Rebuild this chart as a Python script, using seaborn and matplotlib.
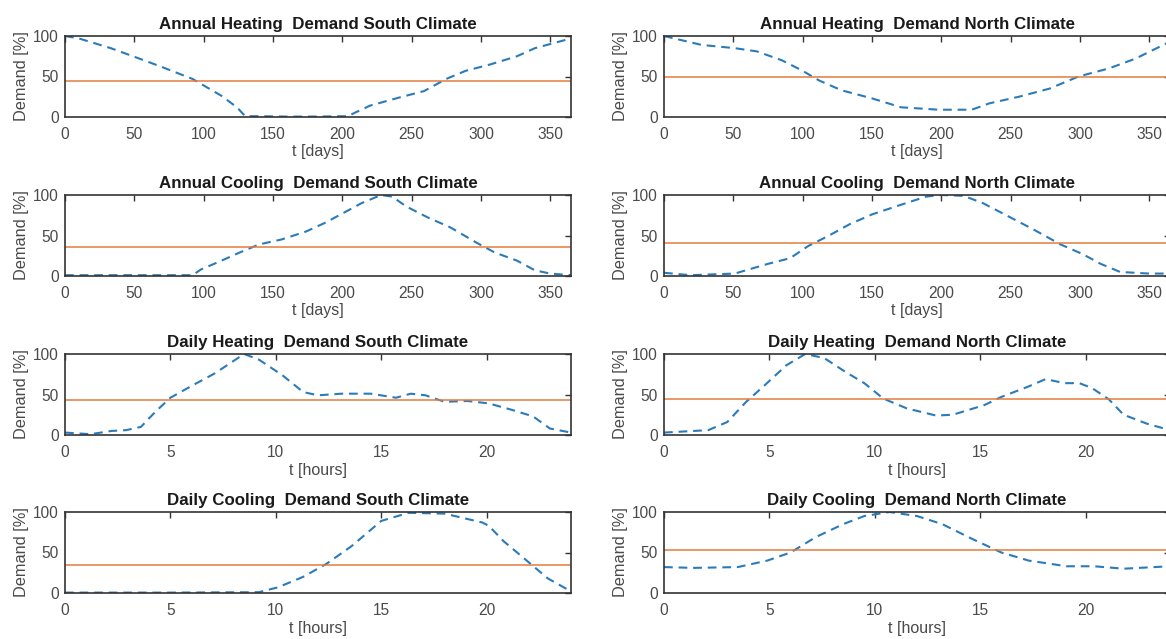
import numpy as np
import pandas as pd
import matplotlib
matplotlib.use("Agg")
import matplotlib.pyplot as plt
import seaborn as sns

# ---------------- data ----------------
ahs_t = [0, 10, 33, 49, 68, 92, 113, 124, 130, 140, 160, 180, 204, 210, 220, 241, 259, 275, 289, 307, 326, 339, 352, 365]
ahs_v = [100, 97, 85, 75, 63, 47, 26, 12, 1, 1, 0.5, 0.5, 1, 6, 14, 24, 32, 47, 57, 65, 75, 85, 91, 97]

ahn_t = [0, 27, 51, 67, 85, 99, 112, 128, 150, 171, 198, 222, 235, 256, 278, 299, 321, 340, 365]
ahn_v = [100, 89, 85, 81, 70, 58, 45, 33, 23, 12, 9, 9, 17, 25, 35, 50, 60, 72, 93]

acs_t = [0, 40, 87, 92, 98, 113, 126, 140, 156, 174, 188, 201, 214, 228, 236, 246, 262, 278, 297, 310, 326, 339, 350, 365]
acs_v = [1, 1, 1, 1, 8, 19, 29, 39, 45, 55, 66, 78, 90, 100, 98, 86, 72, 60, 41, 29, 19, 7, 3, 1]

acn_t = [0, 19, 51, 59, 75, 91, 104, 118, 134, 150, 171, 189, 200, 216, 230, 248, 267, 286, 302, 315, 329, 350, 365]
acn_v = [4, 1, 3, 7, 15, 22, 37, 49, 64, 76, 88, 98, 100, 99, 90, 74, 57, 39, 27, 15, 5, 3, 3]

dhs_t = [0, 1.2, 2.2, 2.9, 3.6, 4.3, 5.0, 6.1, 7.1, 8.2, 8.5, 9.2, 10.3, 11.3, 12.0, 13.1, 14.5, 15.7, 16.4, 17.1, 18.0, 19.1, 20.1, 21.2, 22.2, 23.0, 24.0]
dhs_v = [3, 1, 5, 6, 10, 29, 46, 62, 76, 95, 100, 93, 74, 53, 49, 51, 51, 46, 51, 49, 41, 42, 39, 31, 23, 8, 3]

dhn_t = [0, 2.1, 3.0, 3.9, 4.8, 5.8, 6.7, 7.6, 8.6, 9.5, 10.4, 11.5, 12.9, 13.7, 15.2, 16.0, 17.3, 18.1, 19.0, 19.7, 20.3, 21.1, 21.8, 22.9, 24.0]
dhn_v = [3, 6, 16, 41, 62, 86, 100, 95, 78, 64, 45, 33, 24, 25, 37, 47, 60, 69, 64, 64, 58, 44, 25, 14, 6]

dcs_t = [0, 5, 9.2, 10.1, 11.3, 12.4, 13.6, 15.0, 16.3, 18.0, 19.8, 20.1, 20.8, 21.9, 22.9, 24.0]
dcs_v = [0.5, 0.5, 1, 7, 20, 36, 58, 89, 99, 98, 87, 83, 64, 40, 18, 2]

dcn_t = [0, 1.4, 3.5, 4.9, 6.0, 7.2, 8.5, 9.5, 10.7, 12.0, 13.2, 14.6, 16.0, 17.3, 19.1, 20.4, 21.8, 24.0]
dcn_v = [32, 31, 32, 40, 50, 69, 85, 95, 100, 95, 85, 67, 50, 40, 33, 33, 30, 33]

mean_levels = [45, 50, 36, 41, 43, 44, 35, 53]

titles = [
    "Annual Heating  Demand South Climate", "Annual Heating  Demand North Climate",
    "Annual Cooling  Demand South Climate", "Annual Cooling  Demand North Climate",
    "Daily Heating  Demand South Climate", "Daily Heating  Demand North Climate",
    "Daily Cooling  Demand South Climate", "Daily Cooling  Demand North Climate",
]
series = [(ahs_t, ahs_v), (ahn_t, ahn_v), (acs_t, acs_v), (acn_t, acn_v),
          (dhs_t, dhs_v), (dhn_t, dhn_v), (dcs_t, dcs_v), (dcn_t, dcn_v)]
x_labels = ["t [days]"] * 4 + ["t [hours]"] * 4
x_limits = [365] * 4 + [24] * 4
x_ticks_annual = [0, 50, 100, 150, 200, 250, 300, 350]
x_ticks_daily = [0, 5, 10, 15, 20]
y_ticks = [0, 50, 100]

# ---------------- style ----------------
sns.set_style("white")
plt.rcParams['font.family'] = ['Liberation Sans', 'DejaVu Sans']

W, H = 1166, 639
fig = plt.figure(figsize=(W / 100, H / 100), dpi=100)

left_px = [65, 664]
axw_px = 506
bottoms_px = [117, 276, 435, 593]
axh_px = 81

spine_col = "#333333"
tick_col = "#4a4a4a"
blue = "#2B7BBA"
orange = "#E47A3C"

for i in range(8):
    r, c = divmod(i, 2)
    ax = fig.add_axes([left_px[c] / W, 1 - bottoms_px[r] / H, axw_px / W, axh_px / H])
    t, v = series[i]
    df = pd.DataFrame({"t": t, "v": v})
    sns.lineplot(data=df, x="t", y="v", ax=ax, color=blue, linewidth=1.5,
                 linestyle=(0, (4.2, 2.8)))
    ax.axhline(mean_levels[i], color=orange, linewidth=1.1)
    ax.set_xlim(0, x_limits[i])
    ax.set_ylim(0, 100)
    ax.set_xticks(x_ticks_annual if i < 4 else x_ticks_daily)
    ax.set_yticks(y_ticks)
    ax.set_title(titles[i], fontsize=12.2, fontweight="bold", color="#1a1a1a", pad=5)
    ax.set_xlabel(x_labels[i], fontsize=11.5, color=tick_col, labelpad=2)
    ax.set_ylabel("Demand [%]", fontsize=11.8, color=tick_col, labelpad=3)
    ax.tick_params(direction="in", top=True, right=True, length=4.5, width=1.0,
                   colors=spine_col, labelcolor=tick_col, labelsize=11.2, pad=4.5)
    ax.tick_params(axis="x", pad=7)
    for s in ax.spines.values():
        s.set_color(spine_col)
        s.set_linewidth(1.2)
        s.set_visible(True)

fig.savefig("out.png", dpi=100)
